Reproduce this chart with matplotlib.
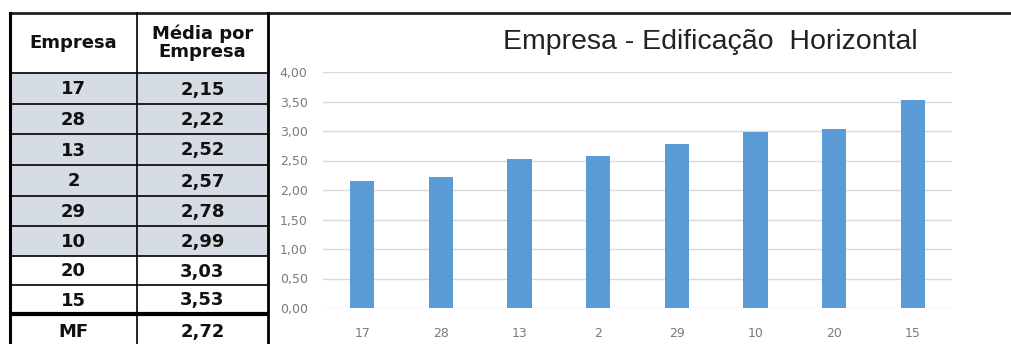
import matplotlib.pyplot as plt
from matplotlib.patches import Rectangle

# dados
empresas = ["17", "28", "13", "2", "29", "10", "20", "15"]
medias = [2.15, 2.22, 2.52, 2.57, 2.78, 2.99, 3.03, 3.53]
media_final = 2.72
sombreadas = 6  # primeiras linhas com fundo cinza-azulado

W, H = 1012, 344
fig = plt.figure(figsize=(W / 100, H / 100), dpi=100)

# ===================== tabela (coordenadas em pixels) =====================
tab = fig.add_axes([0, 0, 1, 1])
tab.set_xlim(0, W)
tab.set_ylim(H, 0)
tab.axis("off")

x0, xm, x1 = 10, 137, 268
y_head = 13
linhas_y = [73, 104, 134, 165, 196, 226, 256, 285, 314, 344]

for i in range(sombreadas):
    tab.add_patch(Rectangle((x0, linhas_y[i]), x1 - x0, linhas_y[i + 1] - linhas_y[i],
                            facecolor="#D6DCE4", edgecolor="none"))

fonte = dict(fontweight="bold", fontsize=13, family="DejaVu Sans", color="#111111",
             ha="center", va="center")
tab.text((x0 + xm) / 2, 43, "Empresa", **fonte)
tab.text((xm + x1) / 2, 43, "Média por\nEmpresa", linespacing=1.0, **fonte)

for i, (e, m) in enumerate(zip(empresas, medias)):
    yc = (linhas_y[i] + linhas_y[i + 1]) / 2 + 1
    tab.text((x0 + xm) / 2, yc, e, **fonte)
    tab.text((xm + x1) / 2, yc, f"{m:.2f}".replace(".", ","), **fonte)
yc = (linhas_y[8] + linhas_y[9]) / 2 + 3
tab.text((x0 + xm) / 2, yc, "MF", **fonte)
tab.text((xm + x1) / 2, yc, f"{media_final:.2f}".replace(".", ","), **fonte)

# linhas da tabela
for y in linhas_y[:-1]:
    lw = 3 if y == linhas_y[8] else 1.2
    tab.plot([x0, x1], [y, y], color="black", lw=lw, solid_capstyle="butt")
tab.plot([x0, W], [y_head, y_head], color="#222222", lw=2)
tab.plot([x0, x0], [y_head, H], color="black", lw=2.2)
tab.plot([xm, xm], [y_head, H], color="black", lw=1.2)
tab.plot([x1, x1], [y_head, H], color="black", lw=2)

# ===================== gráfico de colunas =====================
ax = fig.add_axes([323 / W, (H - 308) / H, 629 / W, (308 - 72) / H])
ax.bar(range(len(empresas)), medias, width=0.31, color="#5B9BD5", zorder=3)
ax.set_xlim(-0.5, len(empresas) - 0.5)
ax.set_ylim(0, 4)
ax.set_yticks([i * 0.5 for i in range(9)])
ax.set_yticklabels([f"{i * 0.5:.2f}".replace(".", ",") for i in range(9)])
ax.set_xticks(range(len(empresas)))
ax.set_xticklabels(empresas)
ax.tick_params(length=0, labelsize=9, labelcolor="#7a7a7a")
ax.tick_params(axis="y", pad=11)
ax.tick_params(axis="x", pad=14)
ax.grid(axis="y", color="#D9D9D9", lw=1, zorder=0)
for s in ax.spines.values():
    s.set_visible(False)

fig.text(710 / W, 1 - 42 / H, "Empresa - Edificação  Horizontal", ha="center", va="center",
         fontsize=20.5, family="Liberation Sans", color="#222222")

plt.savefig("out.png", dpi=100)
plt.close()
